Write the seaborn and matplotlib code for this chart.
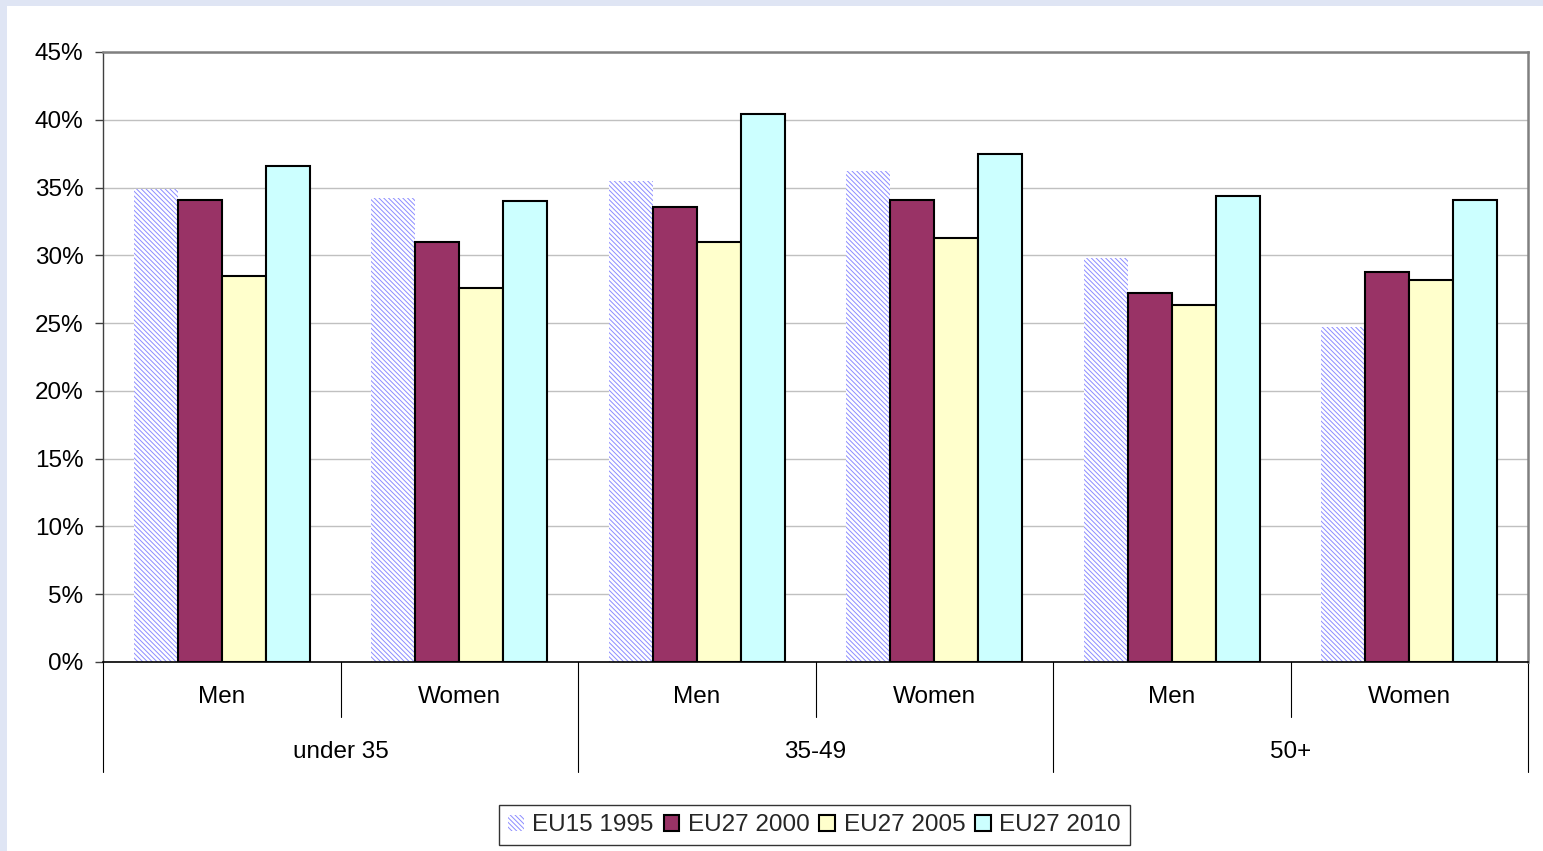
import matplotlib
matplotlib.use("Agg")
import numpy as np
import pandas as pd
import seaborn as sns
import matplotlib.pyplot as plt
import matplotlib.transforms as mtransforms
from matplotlib.patches import Patch, Rectangle
from matplotlib.ticker import PercentFormatter

# ---- data (share, %) ----
age_groups = ["under 35", "35-49", "50+"]
sexes = ["Men", "Women"]
series = ["EU15 1995", "EU27 2000", "EU27 2005", "EU27 2010"]
eu15_1995 = [34.9, 34.2, 35.5, 36.2, 29.8, 24.7]
eu27_2000 = [34.1, 31.0, 33.6, 34.1, 27.2, 28.8]
eu27_2005 = [28.5, 27.6, 31.0, 31.3, 26.3, 28.2]
eu27_2010 = [36.6, 34.0, 40.4, 37.5, 34.4, 34.1]
y_ticks = [0, 5, 10, 15, 20, 25, 30, 35, 40, 45]

colors = ["#ffffff", "#993366", "#ffffcc", "#ccffff"]
hatch_color = "#8c8cff"
hatch_pattern = "\\" * 7

cats = [f"{a}|{s}" for a in age_groups for s in sexes]
values = [eu15_1995, eu27_2000, eu27_2005, eu27_2010]
df = pd.DataFrame(
    [(c, s, v) for s, vals in zip(series, values) for c, v in zip(cats, vals)],
    columns=["cat", "series", "share"],
)

sns.set_theme(style="white")
plt.rcParams["font.family"] = ["Liberation Sans", "DejaVu Sans"]
plt.rcParams["hatch.linewidth"] = 0.7

FS = 17.5
W, H = 1543, 851
fig = plt.figure(figsize=(W / 100, H / 100), dpi=100)
fig.patch.set_facecolor("#dfe5f4")
fig.add_artist(Rectangle((7 / W, 0), 1 - 7 / W, 1 - 6 / H, transform=fig.transFigure,
                         facecolor="white", edgecolor="none", zorder=-5))

ax = fig.add_axes([103 / W, (H - 662) / H, (1528 - 103) / W, (662 - 52) / H])
ax.set_facecolor("white")

sns.barplot(data=df, x="cat", y="share", hue="series", order=cats, hue_order=series,
            palette=colors, saturation=1, width=0.74, gap=0, edgecolor="black",
            linewidth=1.5, legend=False, errorbar=None, ax=ax, zorder=3)

# first series: fine diagonal pattern, no outline
for bar in ax.containers[0]:
    bar.set_facecolor("white")
    bar.set_edgecolor(hatch_color)
    bar.set_hatch(hatch_pattern)
    bar.set_linewidth(0)

ax.set_xlim(-0.5, len(cats) - 0.5)
ax.set_ylim(0, 45)
ax.set_yticks(y_ticks)
ax.yaxis.set_major_formatter(PercentFormatter(xmax=100, decimals=0))
ax.tick_params(axis="y", which="major", left=True, length=6, width=1, color="#404040",
               labelsize=FS, pad=8, labelcolor="black")
ax.set_xticks([])
ax.set_xlabel("")
ax.set_ylabel("")
ax.grid(axis="y", color="#c0c0c0", linewidth=1, zorder=0)
ax.set_axisbelow(True)

for side in ["top", "right"]:
    ax.spines[side].set_color("#808080")
    ax.spines[side].set_linewidth(1.8)
ax.spines["left"].set_color("#404040")
ax.spines["left"].set_linewidth(1)
ax.spines["bottom"].set_color("black")
ax.spines["bottom"].set_linewidth(1.2)
ax.spines["bottom"].set_zorder(4)

# two-level category axis
trans = mtransforms.blended_transform_factory(ax.transData, ax.transAxes)
ax_h = 662 - 52
for x in [0.5, 2.5, 4.5]:
    ax.plot([x, x], [0, -55 / ax_h], transform=trans, clip_on=False, color="black", lw=0.8)
for x in [-0.5, 1.5, 3.5, 5.5]:
    ax.plot([x, x], [0, -110 / ax_h], transform=trans, clip_on=False, color="black", lw=0.8)
for i, c in enumerate(cats):
    ax.text(i, -35 / ax_h, c.split("|")[1], transform=trans, ha="center", va="center",
            fontsize=FS, color="black")
for j, g in enumerate(age_groups):
    ax.text(2 * j + 0.5, -90 / ax_h, g, transform=trans, ha="center", va="center",
            fontsize=FS, color="black")

handles = [Patch(facecolor="white", edgecolor=hatch_color, hatch=hatch_pattern, linewidth=0)]
handles += [Patch(facecolor=c, edgecolor="black", linewidth=1.5) for c in colors[1:]]
leg = fig.legend(handles, series, loc="upper center", bbox_to_anchor=(814.5 / W, (H - 805) / H),
                 ncol=4, frameon=True, fancybox=False, fontsize=FS, handlelength=0.65,
                 handleheight=0.65, handletextpad=0.35, columnspacing=0.4, borderpad=0.38,
                 borderaxespad=0)
leg.get_frame().set_edgecolor("black")
leg.get_frame().set_linewidth(1)
leg.get_frame().set_facecolor("white")

fig.savefig("out.png", dpi=100, facecolor=fig.get_facecolor())
